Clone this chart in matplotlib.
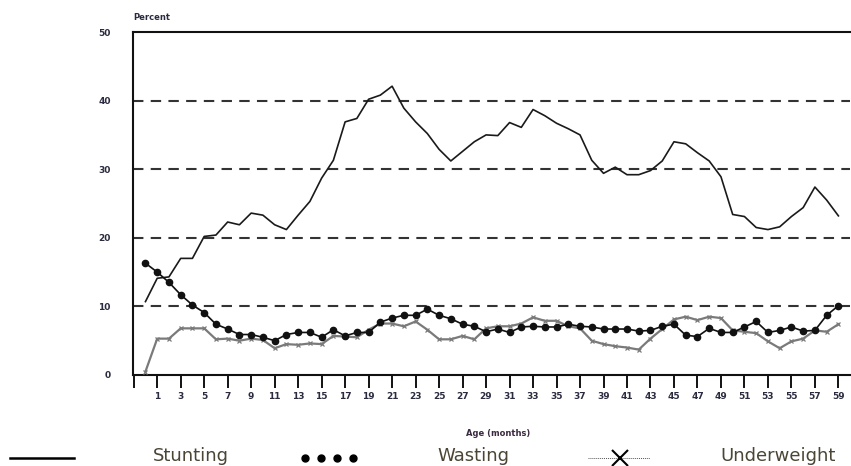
import matplotlib
matplotlib.use("Agg")
import matplotlib.pyplot as plt
from matplotlib.lines import Line2D

# Age in months, 0..59
months = list(range(60))

stunting = [10.7, 14.1, 14.3, 17.0, 17.0, 20.2, 20.4, 22.3, 21.9, 23.6,
            23.3, 21.9, 21.2, 23.3, 25.3, 28.7, 31.3, 36.9, 37.4, 40.2,
            40.8, 42.1, 38.9, 36.9, 35.2, 32.9, 31.2, 32.6, 34.0, 35.0,
            34.9, 36.8, 36.1, 38.7, 37.8, 36.7, 35.9, 35.0, 31.3, 29.4,
            30.3, 29.2, 29.2, 29.8, 31.2, 34.0, 33.7, 32.4, 31.2, 28.9,
            23.4, 23.1, 21.5, 21.2, 21.6, 23.1, 24.4, 27.4, 25.5, 23.2]

wasting = [16.3, 15.0, 13.5, 11.7, 10.2, 9.1, 7.4, 6.7, 5.9, 5.9,
           5.5, 5.0, 5.9, 6.2, 6.2, 5.5, 6.6, 5.7, 6.2, 6.2,
           7.7, 8.3, 8.7, 8.7, 9.6, 8.7, 8.2, 7.4, 7.1, 6.3,
           6.7, 6.2, 7.0, 7.1, 7.0, 7.0, 7.4, 7.1, 7.0, 6.7,
           6.7, 6.7, 6.4, 6.5, 7.1, 7.4, 5.8, 5.6, 6.8, 6.2,
           6.2, 7.0, 7.8, 6.2, 6.5, 7.0, 6.4, 6.5, 8.7, 10.1]

underweight = [0.5, 5.3, 5.3, 6.8, 6.8, 6.8, 5.2, 5.3, 5.0, 5.3,
               5.1, 3.9, 4.5, 4.4, 4.6, 4.5, 5.7, 5.6, 5.5, 6.6,
               7.5, 7.5, 7.1, 7.8, 6.6, 5.2, 5.2, 5.7, 5.2, 6.8,
               7.1, 7.1, 7.5, 8.4, 7.9, 7.9, 7.1, 6.8, 5.0, 4.5,
               4.2, 4.0, 3.7, 5.3, 6.7, 8.1, 8.5, 8.0, 8.5, 8.3,
               6.5, 6.3, 6.1, 4.9, 3.9, 4.9, 5.3, 6.5, 6.3, 7.4]

x_ticks = list(range(-1, 60, 2))
x_labels = [""] + [str(t) for t in range(1, 60, 2)]
y_ticks = [0, 10, 20, 30, 40, 50]
legend_labels = ["Stunting", "Wasting", "Underweight"]

TICK_COLOR = "#2b2b40"
LEGEND_COLOR = "#4a4535"

fig = plt.figure(figsize=(8.51, 4.66), dpi=100)
ax = fig.add_axes([0.1563, 0.1953, 0.8427, 0.736])

# dashed reference lines
for yv in [10, 20, 30, 40]:
    ax.axhline(yv, color="#333333", lw=1.5, ls=(0, (5, 3.5)), zorder=1)

ax.plot(months, stunting, color="#1a1a1a", lw=1.2, zorder=3)
ax.plot(months, underweight, color="#7a7a7a", lw=1.6, marker="x",
        markersize=3.5, markeredgewidth=0.9, zorder=3)
ax.plot(months, wasting, color="#111111", lw=1.2, marker="o",
        markersize=4.5, zorder=4)

ax.set_xlim(-1.06, 60.0)
ax.set_ylim(0, 50)

ax.set_xticks(x_ticks)
ax.set_xticklabels(x_labels, fontsize=6.5, fontweight="bold", color=TICK_COLOR)
ax.set_yticks(y_ticks)
ax.set_yticklabels([str(v) for v in y_ticks], fontsize=6.5,
                   fontweight="bold", color=TICK_COLOR)
ax.tick_params(axis="x", direction="out", length=9, width=1.4, pad=3.5,
               color="#111111")
ax.tick_params(axis="y", length=0, pad=16)

for side in ["left", "top", "bottom"]:
    ax.spines[side].set_linewidth(1.5)
    ax.spines[side].set_color("#111111")
ax.spines["right"].set_visible(False)

fig.text(133 / 851, 1 - 17 / 466, "Percent", fontsize=6, fontweight="bold",
         color=TICK_COLOR, ha="left", va="center")
fig.text(498 / 851, 1 - 433 / 466, "Age (months)", fontsize=6,
         fontweight="bold", color="#3a2a40", ha="center", va="center")

# hand-made legend row below the chart
ly = 1 - 458 / 466
fig.add_artist(Line2D([10 / 851, 74 / 851], [ly, ly], color="black", lw=1.8,
                      transform=fig.transFigure))
fig.add_artist(Line2D([305 / 851, 321 / 851, 337 / 851, 353 / 851],
                      [ly] * 4, color="black", lw=0, marker="o",
                      markersize=5, transform=fig.transFigure))
fig.add_artist(Line2D([588 / 851, 650 / 851], [ly, ly], color="#555555",
                      lw=0.7, ls=(0, (1, 1)), transform=fig.transFigure))
fig.add_artist(Line2D([620 / 851], [ly], color="black", lw=0, marker="x",
                      markersize=12, markeredgewidth=1.5,
                      transform=fig.transFigure))

for xpos, label in zip([153, 437, 720], legend_labels):
    fig.text(xpos / 851, 1 - 456 / 466, label, fontsize=13,
             color=LEGEND_COLOR, ha="left", va="center")

fig.savefig("out.png", dpi=100)
